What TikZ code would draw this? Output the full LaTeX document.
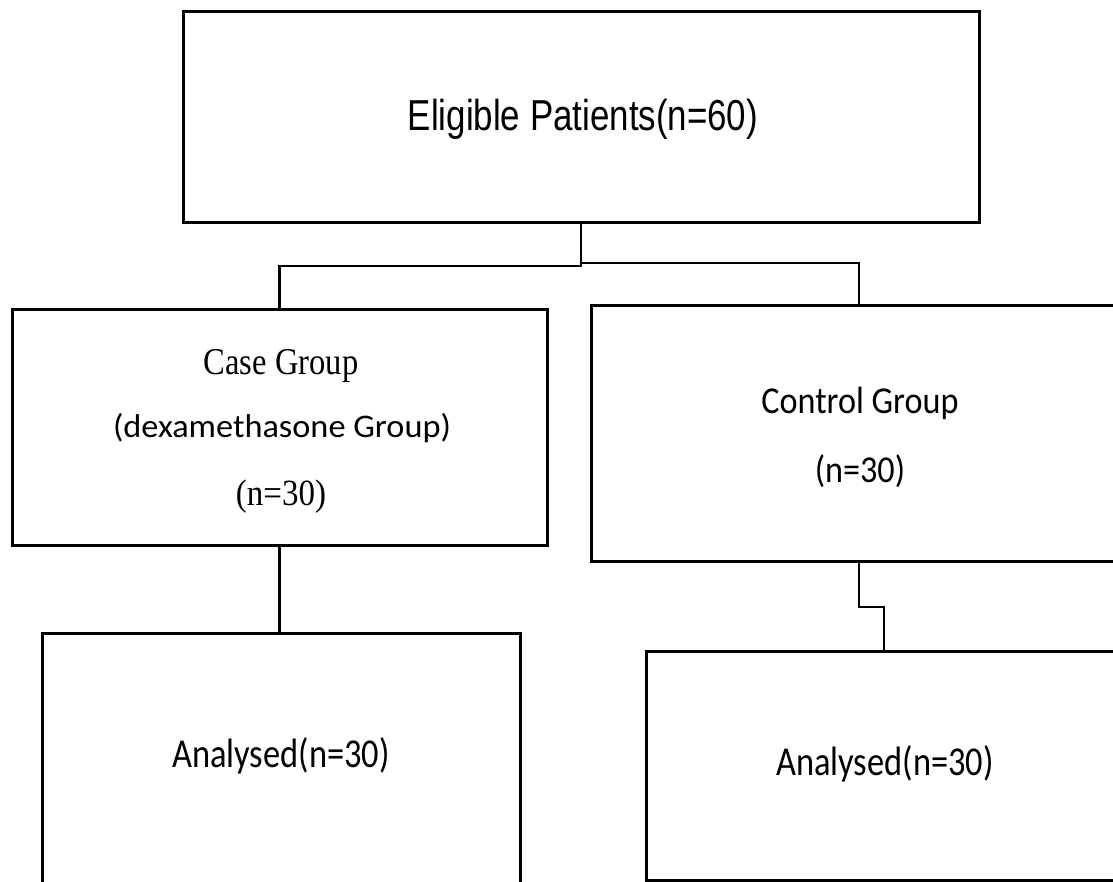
\documentclass[tikz,border=0pt]{standalone}
\usepackage{graphicx}
\usepackage{fontspec}
\setmainfont{Liberation Serif}
\newfontfamily\arialf{Liberation Sans}
\newfontfamily\calf{Carlito}
\newfontfamily\timesf{Liberation Serif}
\begin{document}
\begin{tikzpicture}[x=1pt,y=-1pt,
  box/.style={draw, rectangle, line width=3pt, inner sep=0pt, outer sep=0pt},
  link/.style={line width=2.2pt},
  lbl/.style={anchor=base, inner sep=0pt, outer sep=0pt}]
\useasboundingbox (0,0) rectangle (1113,882);
\clip (0,0) rectangle (1113,882);
% boxes
\node[box, minimum width=796pt, minimum height=211pt] (top) at (581,117.5) {};
\node[box, minimum width=535pt, minimum height=235pt] (case) at (279.5,427.5) {};
\node[box, minimum width=536pt, minimum height=255pt] (control) at (859,433.5) {};
\node[box, minimum width=478pt, minimum height=290pt] (anL) at (281,778) {};
\node[box, minimum width=476pt, minimum height=229pt] (anR) at (884,765.5) {};
% texts
\node[lbl] (ttop) at (583,131) {\arialf\fontsize{43.3}{50}\selectfont\scalebox{0.806}[1]{Eligible Patients(n=60)}};
\node[lbl] (tcase1) at (281,374) {\timesf\fontsize{31}{34}\selectfont\scalebox{1.05}[1.22]{Case Group}};
\node[lbl] (tcase2) at (282,437) {\calf\fontsize{33}{36}\selectfont\scalebox{1.04}[1]{(dexamethasone Group)}};
\node[lbl] (tcase3) at (281,505) {\timesf\fontsize{33}{36}\selectfont\scalebox{1.0}[1.12]{(n=30)}};
\node[lbl] (tctrl1) at (860,413) {\calf\fontsize{38}{42}\selectfont\scalebox{0.9}[1]{Control Group}};
\node[lbl] (tctrl2) at (860,482) {\calf\fontsize{38}{42}\selectfont\scalebox{0.9}[1]{(n=30)}};
\node[lbl] (tanL) at (281,767) {\calf\fontsize{41}{45}\selectfont\scalebox{0.84}[1]{Analysed(n=30)}};
\node[lbl] (tanR) at (885,775) {\calf\fontsize{41}{45}\selectfont\scalebox{0.84}[1]{Analysed(n=30)}};
% connectors
\coordinate (jL) at (0,266);
\coordinate (jR) at (0,263);
\coordinate (k) at (884,607);
\draw[link] (top.south) -- (top.south |- jL) -| (case.north);
\draw[link] (top.south |- jR) -| (control.north);
\draw[link] (case.south) -- (case.south |- anL.north);
\draw[link] (control.south) |- (k) -- (anR.north);
\end{tikzpicture}
\end{document}
